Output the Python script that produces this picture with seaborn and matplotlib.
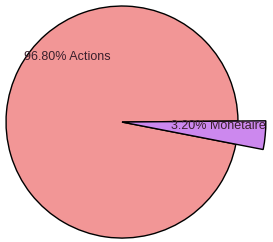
import matplotlib
matplotlib.use("Agg")
import matplotlib.pyplot as plt
import seaborn as sns

sns.set_theme(style="white")
plt.rcParams['font.family'] = ['Liberation Sans', 'DejaVu Sans']

# data
categories = ['Monétaire', 'Actions']
shares = [3.20, 96.80]
pie_colors = ['#CC88EE', '#F29696']

fig = plt.figure(figsize=(2.73, 2.42), dpi=100)
ax = fig.add_axes([0, 0, 1, 1])

# main disc (Actions) and the longer Monétaire slice, same angles
ax.pie(shares, radius=1.0, startangle=0.5, counterclock=False,
       colors=['none', pie_colors[1]],
       wedgeprops={'edgecolor': 'black', 'linewidth': 1.0})
w2, _ = ax.pie(shares, radius=1.24, startangle=0.5, counterclock=False,
               colors=[pie_colors[0], 'none'],
               wedgeprops={'edgecolor': 'black', 'linewidth': 1.0})
w2[1].set_edgecolor('none')

labels = [f'{s:.2f}% {c}' for s, c in zip(shares, categories)]
ax.text(0.42, -0.035, labels[0], fontsize=9, color='#3a1f2c', va='center', ha='left')
ax.text(-0.845, 0.56, labels[1], fontsize=9, color='#3a1f2c', va='center', ha='left')

ax.set_xlim(-1.052, 1.302)
ax.set_ylim(-1.034, 1.052)
ax.set_aspect('auto')
ax.axis('off')

plt.savefig('out.png', dpi=100)
